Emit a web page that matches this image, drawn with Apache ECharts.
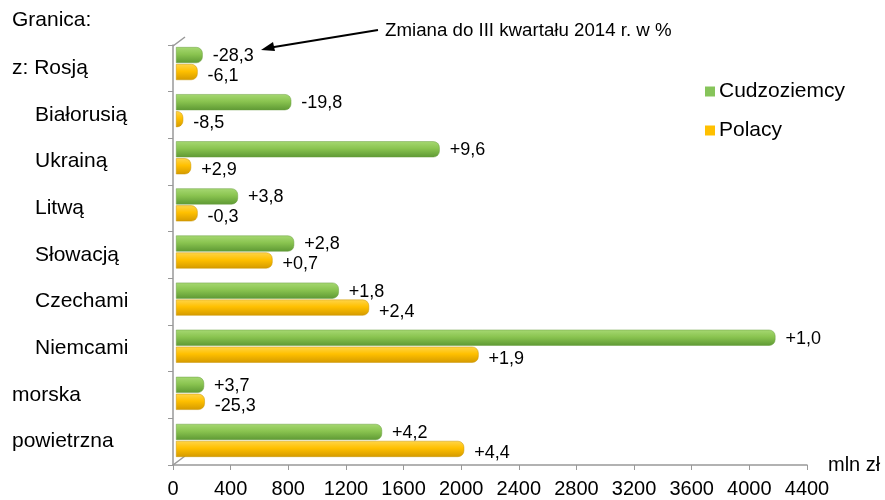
<!DOCTYPE html>
<html><head><meta charset="utf-8">
<script src="https://cdn.jsdelivr.net/npm/echarts@6/dist/echarts.min.js"></script>
<style>html,body{margin:0;padding:0;background:#fff}#c{width:885px;height:500px}</style>
</head><body><div id="c"></div>
<script>
const categories = ['z: Rosją','Białorusią','Ukrainą','Litwą','Słowacją','Czechami','Niemcami','morska','powietrzna'];
const indented = [false,true,true,true,true,true,true,false,false];
const foreigners = [185, 800, 1830, 430, 820, 1130, 4160, 195, 1430];
const poles = [150, 50, 105, 150, 670, 1340, 2100, 200, 2000];
const foreignersChange = ['-28,3','-19,8','+9,6','+3,8','+2,8','+1,8','+1,0','+3,7','+4,2'];
const polesChange = ['-6,1','-8,5','+2,9','-0,3','+0,7','+2,4','+1,9','-25,3','+4,4'];
const xTicks = {min:0, max:4400, interval:400};
const seriesNames = ['Cudzoziemcy','Polacy'];

const FONT = '"Liberation Sans", Arial, sans-serif';
const chart = echarts.init(document.getElementById('c'), null, {renderer:'canvas'});
const grad = (a,b,c) => new echarts.graphic.LinearGradient(0,0,0,1,[{offset:0,color:a},{offset:0.45,color:b},{offset:1,color:c}]);

chart.setOption({
  animation:false,
  textStyle:{fontFamily:FONT},
  legend:{
    orient:'vertical', left:700, top:76, itemGap:18,
    icon:'rect', itemWidth:10, itemHeight:10,
    textStyle:{fontSize:21, color:'#000', fontFamily:FONT, padding:[0,0,0,-1]},
    data:[
      {name:seriesNames[0], itemStyle:{color:'#86c45a', borderWidth:0}},
      {name:seriesNames[1], itemStyle:{color:'#ffc000', borderWidth:0}}
    ]
  },
  grid:[
    {left:173, right:78, top:45, bottom:35},
    {left:176, right:75, top:40, bottom:36}
  ],
  xAxis:[
    {type:'value', gridIndex:0, min:xTicks.min, max:xTicks.max, interval:xTicks.interval,
     axisLine:{show:true, lineStyle:{color:'#999', width:1.5}},
     axisTick:{show:true, length:5, lineStyle:{color:'#999'}},
     splitLine:{show:false},
     axisLabel:{fontSize:20, color:'#000', margin:14, fontFamily:FONT, formatter:v=>String(v)},
     name:'mln zł', nameLocation:'end', nameGap:21,
     nameTextStyle:{fontSize:20, color:'#000', fontFamily:FONT, align:'left', verticalAlign:'middle'}},
    {type:'value', gridIndex:1, min:xTicks.min, max:xTicks.max, show:false}
  ],
  yAxis:[
    {type:'category', gridIndex:0, inverse:true, data:categories,
     axisLine:{show:true, lineStyle:{color:'#999', width:1.5}},
     axisTick:{show:true, length:5, lineStyle:{color:'#999'}},
     axisLabel:{align:'left', margin:161, fontSize:21, color:'#000', fontFamily:FONT,
       formatter:(v,i)=> indented[i] ? '{i|'+v+'}' : v,
       rich:{i:{padding:[0,0,0,23], fontSize:21, color:'#000', fontFamily:FONT}}}},
    {type:'category', gridIndex:1, inverse:true, data:categories, show:false}
  ],
  series:[
    {name:seriesNames[0], type:'bar', xAxisIndex:1, yAxisIndex:1, data:foreigners,
     barWidth:16, barGap:'6%',
     itemStyle:{color:grad('#a6d872','#8ac450','#5e9934'), borderRadius:[0,6,6,0], borderColor:'#6a9f40', borderWidth:0.5},
     label:{show:true, position:'right', distance:10, fontSize:18, color:'#000', fontFamily:FONT,
       offset:[0,1], formatter:p=>foreignersChange[p.dataIndex]}},
    {name:seriesNames[1], type:'bar', xAxisIndex:1, yAxisIndex:1, data:poles,
     barWidth:16,
     itemStyle:{color:grad('#ffd54a','#ffc000','#d49a00'), borderRadius:[0,6,6,0], borderColor:'#c99500', borderWidth:0.5},
     label:{show:true, position:'right', distance:10, fontSize:18, color:'#000', fontFamily:FONT,
       offset:[0,4], formatter:p=>polesChange[p.dataIndex]}}
  ],
  color:['#86c45a','#ffc000'],
  graphic:[
    {type:'text', left:12, top:10, style:{text:'Granica:', fontSize:21, fill:'#000', fontFamily:FONT}},
    {type:'text', left:385, top:21, style:{text:'Zmiana do III kwartału 2014 r. w %', fontSize:18.7, fill:'#000', fontFamily:FONT}},
    {type:'line', shape:{x1:378, y1:30, x2:268, y2:48}, style:{stroke:'#000', lineWidth:2}},
    {type:'polygon', shape:{points:[[261,50],[273,42],[275,51]]}, style:{fill:'#000'}},
    {type:'line', shape:{x1:173, y1:46, x2:185, y2:37}, style:{stroke:'#999', lineWidth:1.5}},
    {type:'line', shape:{x1:173, y1:465, x2:185, y2:456}, style:{stroke:'#999', lineWidth:1.5}}
  ]
});
</script></body></html>
